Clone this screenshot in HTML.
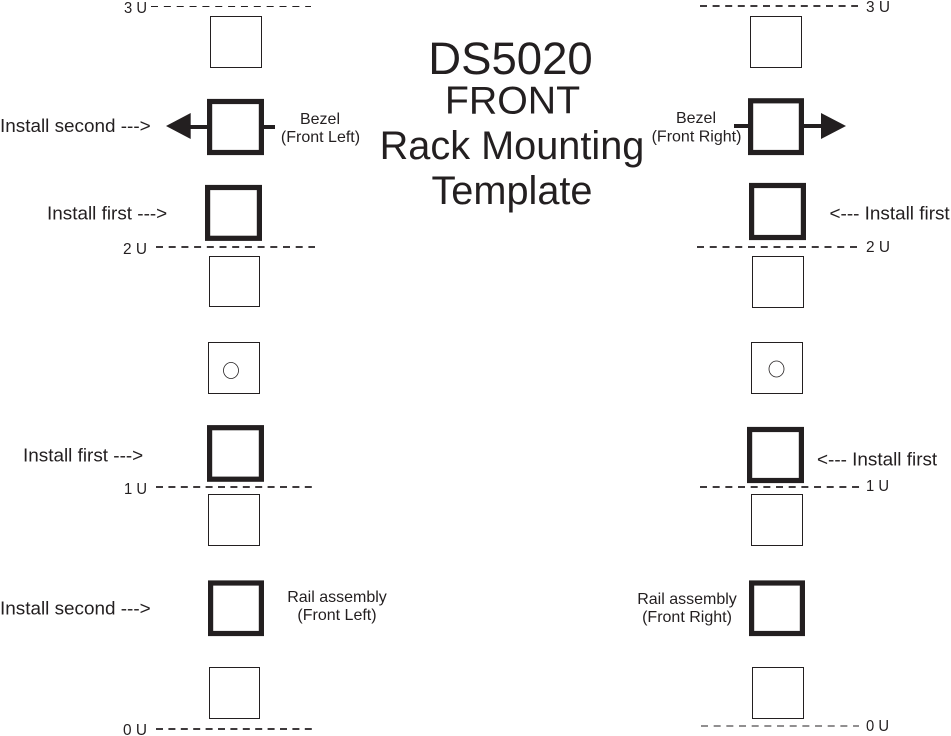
<!DOCTYPE html>
<html><head><meta charset="utf-8"><style>
html,body{margin:0;padding:0;background:#fff}
svg{display:block}
text{font-family:"Liberation Sans",sans-serif;fill:#231f20}
</style></head><body>
<svg width="951" height="736" viewBox="0 0 951 736" xmlns="http://www.w3.org/2000/svg">
<g fill="none" stroke="#231f20">
<g stroke-width="1">
<rect x="210.500" y="16.500" width="51" height="51"/>
<rect x="750.500" y="16.500" width="51" height="51"/>
<rect x="209.500" y="256.500" width="50" height="50"/>
<rect x="752.500" y="256.500" width="51" height="51"/>
<rect x="208.500" y="342.500" width="51" height="51"/>
<rect x="751.500" y="342.500" width="51" height="51"/>
<rect x="208.500" y="494.500" width="51" height="51"/>
<rect x="751.500" y="494.500" width="51" height="51"/>
<rect x="209.500" y="667.500" width="50" height="51"/>
<rect x="752.500" y="667.500" width="51" height="51"/>
</g>
<g stroke-width="0.8">
<ellipse cx="231" cy="370.500" rx="7.500" ry="8"/>
<ellipse cx="776.500" cy="369" rx="7.500" ry="8"/>
</g>
<g stroke-width="5.200">
<rect x="209.600" y="101.500" width="51.800" height="51"/>
<rect x="750.600" y="100.800" width="50.800" height="51.700"/>
<rect x="207.600" y="187.500" width="51.800" height="50.800"/>
<rect x="751.600" y="185.500" width="51.800" height="52"/>
<rect x="209.600" y="427.700" width="51.800" height="51.500"/>
<rect x="749.600" y="429.500" width="51.800" height="51"/>
<rect x="210.600" y="583" width="50.800" height="50.500"/>
<rect x="751.600" y="583" width="50.800" height="50.500"/>
</g>
<g stroke-width="4">
<path d="M189 127H207M264 127H275M734 126H748M804 126H821"/>
</g>
<path d="M151 6.500H311" stroke-width="1" stroke-dasharray="7 5.850"/>
<g stroke-width="1.800">
<path d="M700 6H858" stroke-dasharray="7 5.600"/>
<path d="M156 247H315" stroke-dasharray="7 5.700"/>
<path d="M697 247H858" stroke-dasharray="7 5.750"/>
<path d="M156 487H313" stroke-dasharray="7 5.400"/>
<path d="M700 487H860" stroke-dasharray="7 5.670"/>
<path d="M156 729H313" stroke-dasharray="7 5.400"/>
</g>
<path d="M701 726H859" stroke-width="1" stroke-dasharray="7 5.670"/>
</g>
<path d="M166 126L190.700 113V139Z" fill="#231f20"/>
<path d="M846 126L821 113V139Z" fill="#231f20"/>

<text x="510.500" y="74" text-anchor="middle" font-size="45.500">DS5020</text>
<text x="512.500" y="113.500" text-anchor="middle" font-size="39.300">FRONT</text>
<text x="512" y="159" text-anchor="middle" font-size="39.700">Rack Mounting</text>
<text x="512" y="204" text-anchor="middle" font-size="39.700">Template</text>

<g font-size="16" lengthAdjust="spacingAndGlyphs">
<text x="124" y="13" textLength="23" lengthAdjust="spacingAndGlyphs">3 U</text>
<text x="866" y="12" textLength="24" lengthAdjust="spacingAndGlyphs">3 U</text>
<text x="123" y="254" textLength="24" lengthAdjust="spacingAndGlyphs">2 U</text>
<text x="866" y="252" textLength="24" lengthAdjust="spacingAndGlyphs">2 U</text>
<text x="124" y="494" textLength="23" lengthAdjust="spacingAndGlyphs">1 U</text>
<text x="866" y="491" textLength="23" lengthAdjust="spacingAndGlyphs">1 U</text>
<text x="123" y="735" textLength="24" lengthAdjust="spacingAndGlyphs">0 U</text>
<text x="866" y="731" textLength="23" lengthAdjust="spacingAndGlyphs">0 U</text>
</g>
<g font-size="18.900">
<text x="0" y="132">Install second ---&gt;</text>
<text x="47" y="219.500">Install first ---&gt;</text>
<text x="23" y="461.500">Install first ---&gt;</text>
<text x="0" y="614.500">Install second ---&gt;</text>
<text x="829.500" y="219.500">&lt;--- Install first</text>
<text x="817" y="465.500">&lt;--- Install first</text>
</g>
<g font-size="16" text-anchor="middle">
<text x="320" y="124">Bezel</text>
<text x="320.500" y="142">(Front Left)</text>
<text x="696" y="123">Bezel</text>
<text x="696.500" y="141.500">(Front Right)</text>
<text x="337" y="602">Rail assembly</text>
<text x="337" y="620">(Front Left)</text>
<text x="687" y="604">Rail assembly</text>
<text x="687" y="622">(Front Right)</text>
</g>
</svg>
</body></html>
